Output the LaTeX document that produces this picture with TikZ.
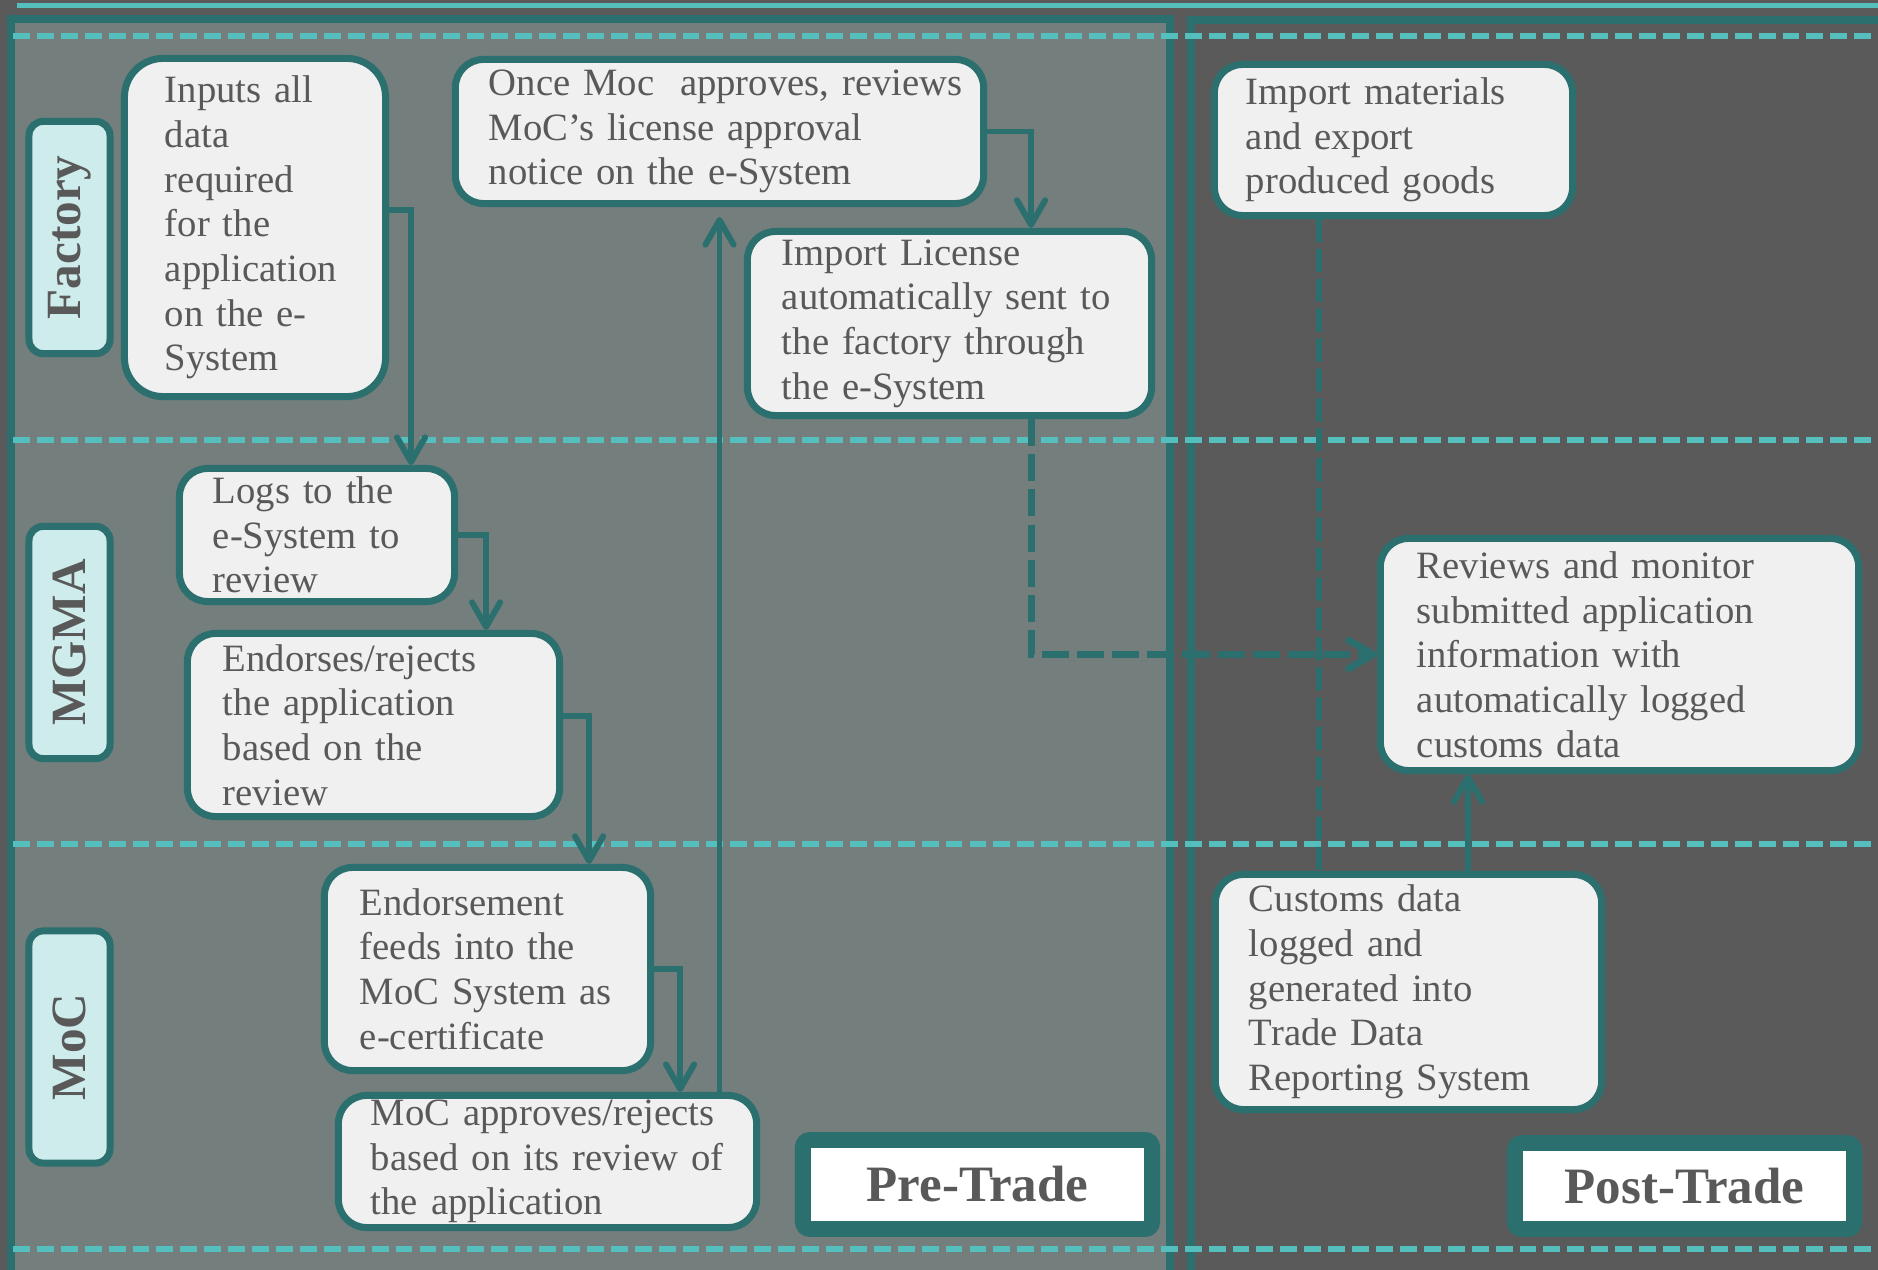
\documentclass[tikz,border=0pt]{standalone}
\usepackage{fontspec}
\setmainfont{Liberation Serif}
\usetikzlibrary{arrows.meta}

\definecolor{tealline}{HTML}{2B706E}
\definecolor{cyanline}{HTML}{55BFBD}
\definecolor{pregray}{HTML}{747E7C}
\definecolor{darkbg}{HTML}{5A5A5A}
\definecolor{boxfill}{HTML}{F0F0F0}
\definecolor{lanefill}{HTML}{CDECEB}
\definecolor{inkgray}{HTML}{595959}

\begin{document}
\begin{tikzpicture}[x=0.01cm, y=-0.01cm,
    stepbox/.style={draw=tealline, fill=boxfill, line width=2pt, rounded corners=8pt,
      inner sep=0pt, align=left, text=inkgray, font=\fontsize{11}{12.7}\selectfont},
    lanebox/.style={draw=tealline, fill=lanefill, line width=2pt, rounded corners=4pt,
      rotate=90, minimum width=2.32cm, minimum height=0.81cm, text=inkgray,
      font=\fontsize{14}{16}\selectfont\bfseries},
    phasebox/.style={draw=tealline, fill=white, line width=4.5pt, rounded corners=2pt,
      text=inkgray, font=\fontsize{14.5}{16}\selectfont\bfseries},
    cyandash/.style={cyanline, line width=1.7pt, dash pattern=on 4.8pt off 2pt},
    flow/.style={tealline, line width=1.7pt, -{Straight Barb[length=7pt,width=8pt,round]}}
  ]
  \useasboundingbox (0,0) rectangle (1878,1270);
  \clip (0,0) rectangle (1878,1270);
  \fill[darkbg] (0,0) rectangle (1878,1270);

  % pre-trade and post-trade panels
  \draw[tealline, line width=2pt, fill=pregray] (11,19) rectangle (1170,1300);
  \draw[tealline, line width=2pt] (1191,20) rectangle (1900,1300);

  % swimlane separators
  \draw[cyanline, line width=1.4pt] (17,5.5) -- (1878,5.5);
  \foreach \y in {36,440,844,1249}
    \draw[cyandash] (13,\y) -- (1878,\y);

  \draw
    (69.5,237.5) node[lanebox] (factory){Factory}
    (69.5,642.5) node[lanebox] (mgma){MGMA}
    (69.5,1047) node[lanebox] (moc){MoC}
    (255,227.5) node[stepbox, rounded corners=11pt, minimum width=2.61cm, minimum height=3.38cm, text width=1.80cm] (inputs)
      {Inputs all\\data\\required\\for the\\application\\on the e-\\System}
    (719.5,131.5) node[stepbox, minimum width=5.28cm, minimum height=1.44cm, text width=4.61cm] (once)
      {\mbox{Once Moc\ \ approves, reviews}\\MoC’s license approval\\notice on the e-System}
    (949.5,323.5) node[stepbox, minimum width=4.04cm, minimum height=1.84cm, text width=3.35cm] (license)
      {Import License\\automatically sent to\\the factory through\\the e-System}
    (317,535) node[stepbox, minimum width=2.75cm, minimum height=1.33cm, text width=2.08cm] (logs)
      {Logs to the\\e-System to\\review}
    (373.5,725) node[stepbox, minimum width=3.72cm, minimum height=1.83cm, text width=3.01cm] (endorses)
      {Endorses/rejects\\the application\\based on the\\review}
    (487.5,969) node[stepbox, minimum width=3.26cm, minimum height=2.03cm, text width=2.55cm] (endorsement)
      {Endorsement\\feeds into the\\MoC System as\\e-certificate}
    (547.5,1161.5) node[stepbox, minimum width=4.18cm, minimum height=1.32cm, text width=3.53cm] (mocappr)
      {MoC approves/rejects\\based on its review of\\the application}
    (1393.5,140) node[stepbox, minimum width=3.58cm, minimum height=1.51cm, text width=2.95cm] (importmat)
      {Import materials\\and export\\produced goods}
    (1619.5,654.5) node[stepbox, minimum width=4.78cm, minimum height=2.32cm, text width=4.05cm] (reviews)
      {Reviews and monitor\\submitted application\\information with\\automatically logged\\customs data}
    (1408.5,992) node[stepbox, minimum width=3.86cm, minimum height=2.35cm, text width=3.19cm] (customs)
      {Customs data\\logged and\\generated into\\Trade Data\\Reporting System}
    (977.5,1184.5) node[phasebox, minimum width=3.49cm, minimum height=0.89cm] (pretrade){Pre-Trade}
    (1684.5,1186) node[phasebox, minimum width=3.39cm, minimum height=0.86cm] (posttrade){Post-Trade};

  \draw[tealline, line width=1.6pt, dash pattern=on 6.5pt off 2pt]
    ([xshift=-0.745cm]importmat.south) -- ([xshift=-0.895cm]customs.north);
  \begin{scope}[flow]
    \draw ([yshift=0.175cm]inputs.east) -| ([xshift=0.94cm]logs.north);
    \draw (logs.east) -| ([xshift=1.125cm]endorses.north);
    \draw ([yshift=0.09cm]endorses.east) -| ([xshift=1.015cm]endorsement.north);
    \draw (endorsement.east) -| ([xshift=1.325cm]mocappr.north);
    \draw[shorten >=0.1cm] (mocappr.north -| once.south) -- (once.south);
    \draw (once.east) -| ([xshift=0.815cm]license.north);
    \draw[line width=2pt, dash pattern=on 7.7pt off 2.3pt] ([xshift=0.815cm]license.south) |- (reviews.west);
    \draw ([xshift=0.595cm]customs.north) -- ([xshift=-1.515cm]reviews.south);
  \end{scope}
\end{tikzpicture}
\end{document}
